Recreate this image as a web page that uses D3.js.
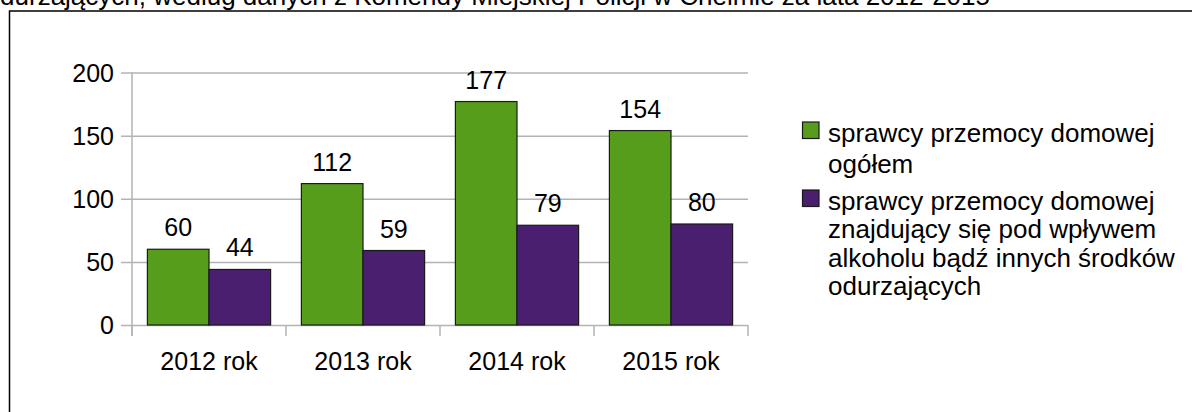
<!DOCTYPE html>
<html>
<head>
<meta charset="utf-8">
<script src="https://cdn.jsdelivr.net/npm/d3@7"></script>
<style>
  body { margin: 0; background: #fff; }
  text { font-family: "Liberation Sans", Arial, sans-serif; fill: #000; }
</style>
</head>
<body>
<svg id="chart" width="1192" height="412"></svg>
<script>
const categories = ['2012 rok', '2013 rok', '2014 rok', '2015 rok'];
const seriesNames = ['ogolem', 'alkohol'];
const totalValues = [60, 112, 177, 154];
const alcoholValues = [44, 59, 79, 80];
const yTicks = [0, 50, 100, 150, 200];
const legendLines = [
    ['sprawcy przemocy domowej', 'ogółem'],
    ['sprawcy przemocy domowej', 'znajdujący się pod wpływem', 'alkoholu bądź innych środków', 'odurzających']
];
const titleText = 'odurzających, według danych z Komendy Miejskiej Policji w Chełmie za lata 2012-2015';
const colors = ['#579d1c', '#4b1f6f'];

const svg = d3.select('#chart');

// Clipped title line and frame of the chart object
svg.append('text')
    .attr('x', 990)
    .attr('y', 4.5)
    .attr('font-size', 26)
    .attr('text-anchor', 'end')
    .text(titleText);

svg.append('rect')
    .attr('x', 9.5)
    .attr('y', 11)
    .attr('width', 1200)
    .attr('height', 420)
    .attr('fill', 'none')
    .attr('stroke', '#000')
    .attr('stroke-width', 1.5);

const plot = { left: 132, right: 748, top: 72.5, bottom: 325 };
const fontSize = 25;

const yScale = d3.scaleLinear()
    .domain([0, 200])
    .range([plot.bottom, plot.top]);

const xScale = d3.scaleBand()
    .domain(categories)
    .range([plot.left, plot.right])
    .paddingInner(0)
    .paddingOuter(0);

const groupScale = d3.scaleBand()
    .domain(seriesNames)
    .range([0, xScale.bandwidth()])
    .paddingOuter(0.25)
    .paddingInner(0);

// Gridlines + y labels
const yAxis = d3.axisLeft(yScale)
    .tickValues(yTicks)
    .tickSize(-(plot.right - plot.left) - 11)
    .tickPadding(7)
    .tickSizeOuter(0);

svg.append('g')
    .attr('transform', `translate(${plot.left - 11},0)`)
    .call(yAxis)
    .call(g => g.select('.domain').remove())
    .call(g => g.selectAll('.tick line').attr('stroke', '#b3b3b3').attr('stroke-width', 1.5))
    .call(g => g.selectAll('.tick text')
        .attr('font-size', fontSize)
        .attr('font-family', '"Liberation Sans", Arial, sans-serif')
        .attr('fill', '#000')
        .attr('dy', '0.35em'));

// Y axis line
svg.append('line')
    .attr('x1', plot.left).attr('x2', plot.left)
    .attr('y1', plot.top).attr('y2', plot.bottom + 11)
    .attr('stroke', '#b3b3b3')
    .attr('stroke-width', 1.5);

// Category boundary ticks
const boundaries = categories.map(c => xScale(c)).concat([plot.right]);
svg.append('g')
    .selectAll('line')
    .data(boundaries)
    .join('line')
    .attr('x1', d => d).attr('x2', d => d)
    .attr('y1', plot.bottom).attr('y2', plot.bottom + 11)
    .attr('stroke', '#b3b3b3')
    .attr('stroke-width', 1.5);

// Category labels
svg.append('g')
    .selectAll('text')
    .data(categories)
    .join('text')
    .attr('x', d => xScale(d) + xScale.bandwidth() / 2)
    .attr('y', 370)
    .attr('font-size', fontSize)
    .attr('text-anchor', 'middle')
    .text(d => d);

// Bars
const rows = categories.map((c, i) => ({
    category: c,
    values: [
        { key: seriesNames[0], value: totalValues[i], color: colors[0] },
        { key: seriesNames[1], value: alcoholValues[i], color: colors[1] }
    ]
}));

const groups = svg.append('g')
    .selectAll('g')
    .data(rows)
    .join('g')
    .attr('transform', d => `translate(${xScale(d.category)},0)`);

groups.selectAll('rect')
    .data(d => d.values)
    .join('rect')
    .attr('x', d => groupScale(d.key))
    .attr('y', d => yScale(d.value))
    .attr('width', groupScale.bandwidth())
    .attr('height', d => plot.bottom - yScale(d.value))
    .attr('fill', d => d.color)
    .attr('stroke', '#1a1a1a')
    .attr('stroke-width', 1.2);

groups.selectAll('text')
    .data(d => d.values)
    .join('text')
    .attr('x', d => groupScale(d.key) + groupScale.bandwidth() / 2)
    .attr('y', d => yScale(d.value) - 13)
    .attr('font-size', fontSize)
    .attr('text-anchor', 'middle')
    .text(d => d.value);

// Legend
const legend = svg.append('g');
const legendStarts = [142, 210];
const lineSteps = [31, 28.4];

legendLines.forEach((lines, i) => {
    legend.append('rect')
        .attr('x', 802.5)
        .attr('y', legendStarts[i] - 20)
        .attr('width', 16.5)
        .attr('height', 16.5)
        .attr('fill', colors[i])
        .attr('stroke', '#1a1a1a')
        .attr('stroke-width', 1.2);

    legend.append('g')
        .selectAll('text')
        .data(lines)
        .join('text')
        .attr('x', 828)
        .attr('y', (d, j) => legendStarts[i] + j * lineSteps[i])
        .attr('font-size', 26)
        .text(d => d);
});
</script>
</body>
</html>
